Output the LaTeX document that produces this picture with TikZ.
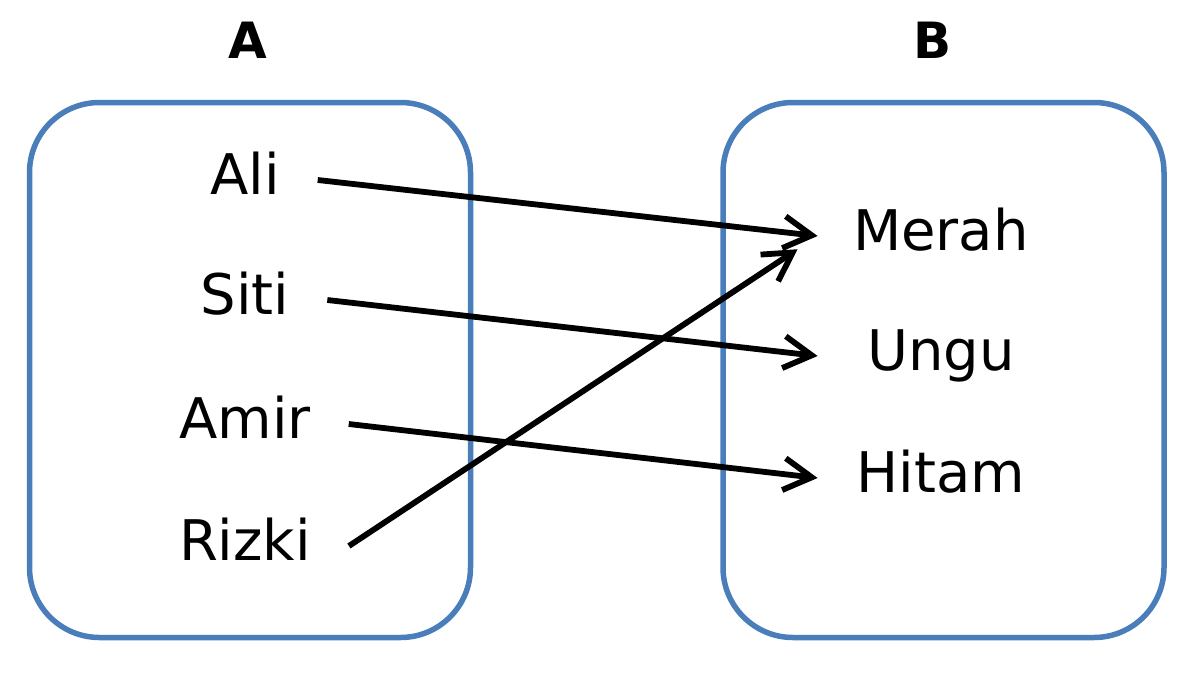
\documentclass[tikz,border=0pt]{standalone}
\usepackage{fontspec}
\setmainfont{DejaVu Sans}
\usepackage{tikz}
\usetikzlibrary{arrows.meta, positioning, calc}
\definecolor{SetBlue}{HTML}{4A7EBB}
\definecolor{ArrowBlack}{HTML}{000000}

\begin{document}
\begin{tikzpicture}[x=0.5pt, y=-0.5pt,
    setbox/.style={draw=SetBlue, line width=2.75pt, rounded corners=35pt, minimum width=220.5pt, minimum height=267.5pt, inner sep=0pt},
    setname/.style={font=\fontsize{25}{30}\selectfont\bfseries, inner sep=0pt},
    member/.style={font=\fontsize{28}{33}\selectfont, text height=20pt, text depth=6pt, inner sep=0pt},
    leftmember/.style={member, outer xsep=19pt},
    rightmember/.style={member, minimum width=123pt},
    mapto/.style={-{Straight Barb[length=14pt, width=16pt]}, line width=2.9pt, ArrowBlack}]
  \useasboundingbox (0,0) rectangle (1200,675);

  % the two sets
  \node[setbox] (setA) at (250,370) {};
  \node[setbox] (setB) at (943.5,370) {};
  \node[setname] (nameA) at (248,40) {A};
  \node[setname] (nameB) at (933,40) {B};

  % members of A
  \node[leftmember] (ali) at (245,180) {Ali};
  \node[leftmember] (siti) at (245,300) {Siti};
  \node[leftmember] (amir) at (245,424) {Amir};
  \node[leftmember] (rizki) at (245,546) {Rizki};

  % members of B
  \node[rightmember] (merah) at (941,236) {Merah};
  \node[rightmember] (ungu) at (941,356) {Ungu};
  \node[rightmember] (hitam) at (941,478) {Hitam};

  \draw[mapto] (ali.east) -- (merah.west);
  \draw[mapto] (siti.east) -- (ungu.west);
  \draw[mapto] (amir.east) -- (hitam.west);
  \draw[mapto, shorten >=12pt] (rizki.east) -- (merah.west);
\end{tikzpicture}
\end{document}
